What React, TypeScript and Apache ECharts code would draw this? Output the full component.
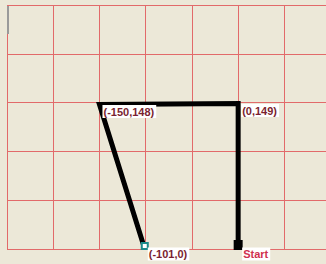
import React, { useEffect, useRef } from "react";
import * as echarts from "echarts";

const pathX = [0, 0, -150, -101];
const pathY = [0, 149, 148, 0];
const pointLabels = ["Start", "(0,149)", "(-150,148)", "(-101,0)"];
const xTicks = [-250, 95, 50];
const yTicks = [0, 250, 50];

export default function App() {
  const ref = useRef<HTMLDivElement>(null);
  useEffect(() => {
    if (!ref.current) return;
    const chart = echarts.init(ref.current, undefined, { renderer: "svg" });
    const labelBase = {
      show: true,
      position: "inside" as const,
      align: "left" as const,
      verticalAlign: "middle" as const,
      fontFamily: "Liberation Sans Narrow, Liberation Sans",
      fontWeight: "bold" as const,
      fontSize: 11,
      color: "#7a1f30",
      backgroundColor: "#ffffff",
      padding: [1, 2, 1, 1],
    };
    const data = pathX.map((x, i) => {
      const item: any = { value: [x, pathY[i]], symbol: "rect", symbolSize: 0 };
      if (i === 0) {
        item.symbolSize = [9, 10];
        item.symbolOffset = [0, -4];
        item.itemStyle = { color: "#000000" };
        item.label = { ...labelBase, offset: [4, 9], color: "#d0304e" };
      } else if (i === 3) {
        item.symbolSize = 6;
        item.symbolOffset = [0, -3];
        item.itemStyle = { color: "#ffffff", borderColor: "#1a8a8a", borderWidth: 2 };
        item.label = { ...labelBase, offset: [3, 8] };
      } else {
        item.label = { ...labelBase, offset: [3, 7] };
      }
      item.label.formatter = pointLabels[i];
      return item;
    });
    chart.setOption({
      animation: false,
      backgroundColor: "#ece8d8",
      grid: { left: 7, top: 5, right: 0, height: 244, containLabel: false },
      xAxis: {
        type: "value",
        min: xTicks[0],
        max: xTicks[1],
        interval: xTicks[2],
        axisLine: { show: false },
        axisTick: { show: false },
        axisLabel: { show: false },
        splitLine: { show: true, lineStyle: { color: "#e26a6a", width: 1 } },
      },
      yAxis: {
        type: "value",
        min: yTicks[0],
        max: yTicks[1],
        interval: yTicks[2],
        axisLine: { show: false },
        axisTick: { show: false },
        axisLabel: { show: false },
        splitLine: { show: true, lineStyle: { color: "#e26a6a", width: 1 } },
      },
      graphic: [
        { type: "rect", left: 7, top: 6, shape: { width: 2, height: 28 }, style: { fill: "#9a9a9a" }, z: 100 },
      ],
      series: [
        {
          type: "line",
          data,
          showSymbol: true,
          showAllSymbol: true,
          lineStyle: { color: "#000000", width: 5, cap: "butt", join: "miter" },
          itemStyle: { color: "#000000" },
          z: 3,
        },
      ],
    });
    return () => chart.dispose();
  }, []);
  return (
    <div
      ref={ref}
      style={{ position: "absolute", left: 0, top: 0, width: 326, height: 264 }}
    />
  );
}
